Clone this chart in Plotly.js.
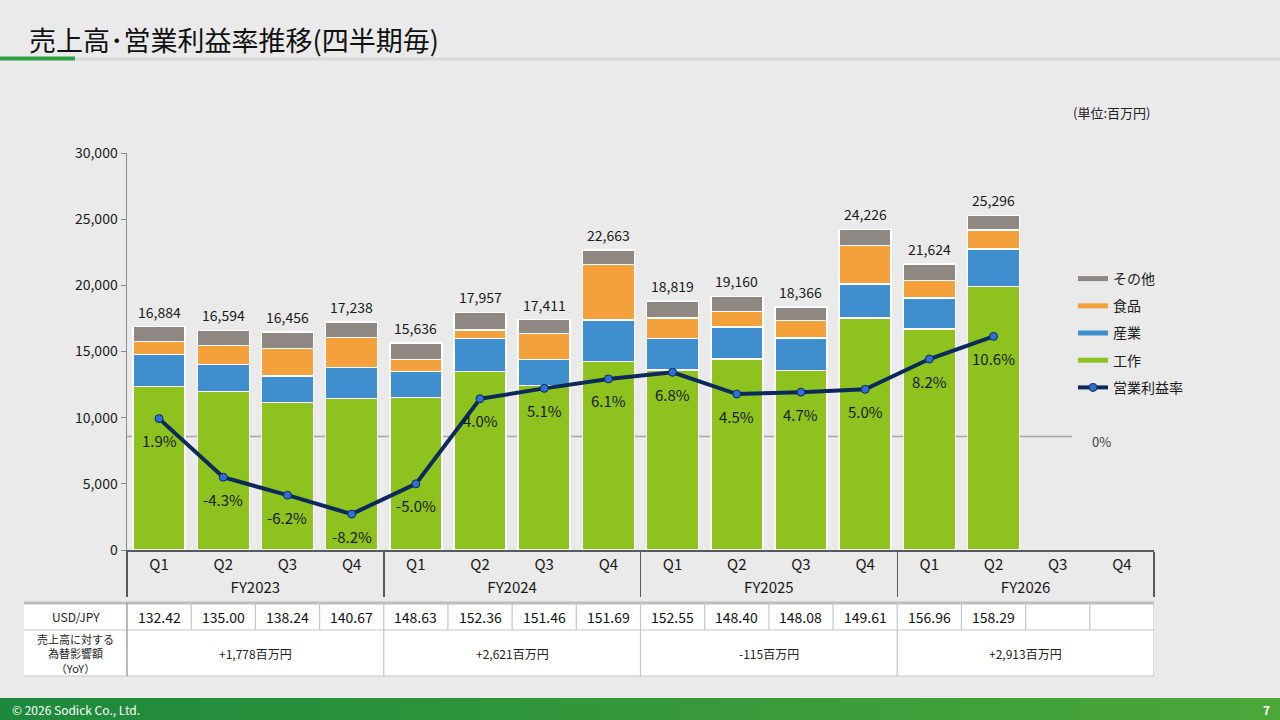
<!DOCTYPE html>
<html>
<head>
<meta charset="utf-8">
<script src="https://cdn.plot.ly/plotly-3.0.1.min.js"></script>
<style>
  html, body { margin: 0; padding: 0; background: #eaeaea; }
  #chart { width: 1280px; height: 720px; }
</style>
</head>
<body>
<div id="chart"></div>
<script>
    /* * Data (百万円) * */
    var fiscal_years = ['FY2023', 'FY2024', 'FY2025', 'FY2026'];
    var quarters = ['Q1', 'Q2', 'Q3', 'Q4'];
    var sales_machine    = [12350, 11990, 11134, 11461, 11537, 13501, 12444, 14232, 13603, 14434, 13552, 17532, 16701, 19900, null, null];
    var sales_industrial = [2410, 2041, 2015, 2318, 1964, 2469, 1940, 3149, 2367, 2418, 2469, 2569, 2342, 2847, null, null];
    var sales_food       = [1010, 1435, 2066, 2293, 907, 655, 1990, 4182, 1562, 1159, 1310, 2923, 1310, 1435, null, null];
    var sales_other      = [1114, 1128, 1241, 1166, 1228, 1332, 1037, 1100, 1287, 1149, 1035, 1202, 1271, 1114, null, null];
    var op_margin        = [1.9, -4.3, -6.2, -8.2, -5.0, 4.0, 5.1, 6.1, 6.8, 4.5, 4.7, 5.0, 8.2, 10.6, null, null];
    var usd_jpy          = [132.42, 135.00, 138.24, 140.67, 148.63, 152.36, 151.46, 151.69, 152.55, 148.40, 148.08, 149.61, 156.96, 158.29, null, null];
    var fx_impact        = ['+1,778百万円', '+2,621百万円', '-115百万円', '+2,913百万円'];

    /* * Colors * */
    var col_machine = '#8DC21F';
    var col_industrial = '#3F8FCE';
    var col_food = '#F4A13B';
    var col_other = '#8F8781';
    var col_line = '#0B2A5B';

    /* * Pixel helpers (plot area 127..1154 x 153..550) * */
    var PL = 127, PR = 1154, PT = 153, PB = 550;
    function px(p) { return (p - PL) / (PR - PL); }
    function py(p) { return (PB - p) / (PB - PT); }

    /* * Category arrays * */
    var x_fy = [], x_q = [];
    for (var f = 0; f < fiscal_years.length; f++) {
        for (var q = 0; q < quarters.length; q++) {
            x_fy.push(fiscal_years[f]);
            x_q.push(quarters[q]);
        }
    }
    var x_cat = [x_fy, x_q];

    var totals = [];
    for (var i = 0; i < sales_machine.length; i++) {
        if (sales_machine[i] === null) { totals.push(null); continue; }
        totals.push(sales_machine[i] + sales_industrial[i] + sales_food[i] + sales_other[i]);
    }

    function barTrace(name, vals, color, grp) {
        return {
            type: 'bar', name: name, x: x_cat, y: vals,
            marker: { color: color, line: { color: '#ffffff', width: 1.5 } },
            showlegend: false, legendgroup: grp, hoverinfo: 'skip'
        };
    }
    function legendTrace(name, color, grp, rank) {
        return {
            type: 'scatter', mode: 'lines', name: name,
            x: [[fiscal_years[0]], [quarters[0]]], y: [null],
            line: { color: color, width: 5 },
            legendgroup: grp, legendrank: rank, hoverinfo: 'skip'
        };
    }

    var data = [
        barTrace('工作', sales_machine, col_machine, 'mach'),
        barTrace('産業', sales_industrial, col_industrial, 'ind'),
        barTrace('食品', sales_food, col_food, 'food'),
        barTrace('その他', sales_other, col_other, 'other'),
        legendTrace('その他', col_other, 'other', 1),
        legendTrace('食品', col_food, 'food', 2),
        legendTrace('産業', col_industrial, 'ind', 3),
        legendTrace('工作', col_machine, 'mach', 4),
        {
            type: 'scatter', mode: 'lines+markers', name: '営業利益率',
            x: x_cat, y: op_margin, yaxis: 'y2',
            line: { color: col_line, width: 4 },
            marker: { color: '#2F6FD6', size: 8, line: { color: col_line, width: 1 } },
            legendgroup: 'margin', legendrank: 5, cliponaxis: false, hoverinfo: 'skip'
        }
    ];

    /* * Shapes * */
    var shapes = [];
    // header rules
    shapes.push({ type: 'line', xref: 'paper', yref: 'paper', x0: px(75), x1: px(1280), y0: py(59), y1: py(59), line: { color: '#d9d9d9', width: 3 } });
    shapes.push({ type: 'line', xref: 'paper', yref: 'paper', x0: px(0), x1: px(75), y0: py(58.5), y1: py(58.5), line: { color: '#2BA140', width: 4 } });
    // footer band (stepped gradient)
    var n_strips = 32;
    for (var s = 0; s < n_strips; s++) {
        var k = s / (n_strips - 1);
        var r = Math.round(30 + k * 45), g = Math.round(137 + k * 30), b = Math.round(60 - k * 2);
        shapes.push({ type: 'rect', xref: 'paper', yref: 'paper', x0: px(s * 1280 / n_strips), x1: px((s + 1) * 1280 / n_strips + 1), y0: py(720), y1: py(698), fillcolor: 'rgb(' + r + ',' + g + ',' + b + ')', line: { width: 0 } });
    }
    // 0% reference line
    shapes.push({ type: 'line', xref: 'paper', yref: 'y2', x0: 0, x1: px(1072), y0: 0, y1: 0, line: { color: '#a6a6a6', width: 1.5 }, layer: 'below' });
    // table
    shapes.push({ type: 'rect', xref: 'paper', yref: 'paper', x0: px(24), x1: px(1154), y0: py(676), y1: py(603), fillcolor: '#ffffff', line: { width: 0 } });
    shapes.push({ type: 'line', xref: 'paper', yref: 'paper', x0: px(24), x1: px(1154), y0: py(603), y1: py(603), line: { color: '#bdbdbd', width: 3 } });
    shapes.push({ type: 'line', xref: 'paper', yref: 'paper', x0: px(24), x1: px(1154), y0: py(630), y1: py(630), line: { color: '#c6c6c6', width: 1.2 } });
    shapes.push({ type: 'line', xref: 'paper', yref: 'paper', x0: px(24), x1: px(1154), y0: py(676), y1: py(676), line: { color: '#c6c6c6', width: 1.2 } });
    shapes.push({ type: 'line', xref: 'paper', yref: 'paper', x0: 0, x1: 0, y0: py(676), y1: py(603), line: { color: '#8c8c8c', width: 1.2 } });
    for (var c = 1; c <= 16; c++) {
        shapes.push({ type: 'line', xref: 'x', yref: 'paper', x0: c - 0.5, x1: c - 0.5, y0: py(630), y1: py(603), line: { color: '#c6c6c6', width: 1.2 } });
    }
    for (var gi = 1; gi <= 4; gi++) {
        shapes.push({ type: 'line', xref: 'x', yref: 'paper', x0: gi * 4 - 0.5, x1: gi * 4 - 0.5, y0: py(676), y1: py(630), line: { color: '#c6c6c6', width: 1.2 } });
    }

    /* * Annotations * */
    var annotations = [];
    function note(x, y, text, size, color, anchor, xref) {
        annotations.push({ xref: xref || 'paper', yref: 'paper', x: x, y: y, text: text, showarrow: false,
            xanchor: anchor || 'center', yanchor: 'middle', font: { size: size, color: color } });
    }
    // totals above bars, margin labels under points
    for (var j = 0; j < totals.length; j++) {
        if (totals[j] !== null) {
            annotations.push({ xref: 'x', yref: 'y', x: j, y: totals[j], yshift: 15, text: totals[j].toLocaleString('en-US'),
                showarrow: false, xanchor: 'center', yanchor: 'middle', font: { size: 14, color: '#1a1a1a' } });
        }
        if (op_margin[j] !== null) {
            annotations.push({ xref: 'x', yref: 'y2', x: j, y: op_margin[j], yshift: -22, text: op_margin[j].toFixed(1) + '%',
                showarrow: false, xanchor: 'center', yanchor: 'middle', font: { size: 15, color: '#1a1a1a' } });
        }
    }
    note(px(27), py(40), '売上高･営業利益率推移(四半期毎)', 27, '#111111', 'left');
    note(px(1152), py(113), '(単位:百万円)', 13, '#222222', 'right');
    note(px(1090), py(442), '0%', 13, '#404040', 'left');
    note(px(75.5), py(616.5), 'USD/JPY', 12, '#222222');
    note(px(75.5), py(653), '売上高に対する<br>為替影響額<br>（YoY）', 11, '#222222');
    for (var u = 0; u < usd_jpy.length; u++) {
        if (usd_jpy[u] !== null) note(u, py(616.5), usd_jpy[u].toFixed(2), 14, '#111111', 'center', 'x');
    }
    for (var fi = 0; fi < fx_impact.length; fi++) {
        note(fi * 4 + 1.5, py(653), fx_impact[fi], 12, '#222222', 'center', 'x');
    }
    note(px(10), py(709), '© 2026 Sodick Co., Ltd.', 12, '#ffffff', 'left');
    note(px(1272), py(709), '<b>7</b>', 12, '#ffffff', 'right');

    var layout = {
        width: 1280, height: 720,
        margin: { l: PL, r: 1280 - PR, t: PT, b: 720 - PB, autoexpand: false },
        paper_bgcolor: '#eaeaea', plot_bgcolor: 'rgba(0,0,0,0)',
        font: { family: '"Noto Sans CJK JP", "Noto Sans", sans-serif', color: '#1a1a1a' },
        barmode: 'stack', bargap: 0.19,
        xaxis: {
            type: 'multicategory', range: [-0.5, 15.5],
            showline: true, linecolor: '#595959', linewidth: 1.5, ticks: '',
            showdividers: true, dividercolor: '#595959', dividerwidth: 1.5,
            showgrid: false, zeroline: false,
            tickfont: { size: 15, color: '#1a1a1a' }
        },
        yaxis: {
            range: [0, 30000], tickvals: [0, 5000, 10000, 15000, 20000, 25000, 30000],
            tickformat: ',d', ticks: 'outside', ticklen: 5, tickcolor: '#8c8c8c',
            showline: true, linecolor: '#8c8c8c', linewidth: 1.5,
            showgrid: false, zeroline: false,
            tickfont: { size: 14, color: '#1a1a1a' }
        },
        yaxis2: { overlaying: 'y', side: 'right', range: [-12, 30], visible: false },
        showlegend: true,
        legend: {
            x: px(1073), y: py(263), xanchor: 'left', yanchor: 'top',
            bgcolor: 'rgba(0,0,0,0)', font: { size: 14, color: '#1a1a1a' },
            traceorder: 'grouped', tracegroupgap: 6, itemclick: false
        },
        shapes: shapes,
        annotations: annotations
    };

    Plotly.newPlot('chart', data, layout, { displayModeBar: false, staticPlot: true });
</script>
</body>
</html>
